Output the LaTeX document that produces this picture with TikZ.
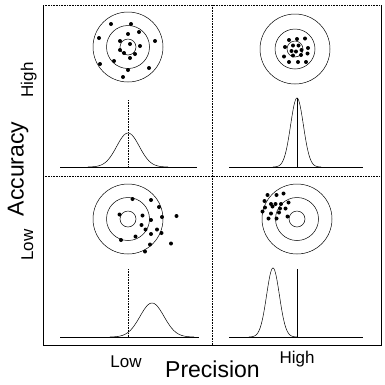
\documentclass[tikz,border=0pt]{standalone}
\usepackage{fontspec}
\setmainfont{Liberation Sans}
\usetikzlibrary{calc}

\begin{document}
\begin{tikzpicture}[x=1pt,y=-1pt,
		frameline/.style={line width=0.8pt},
		dotline/.style={line width=0.6pt,densely dotted},
		ring/.style={line width=0.5pt},
		shot/.style={fill=black},
		bell/.style={line width=0.5pt},
		axisline/.style={line width=0.9pt},
		trueline/.style={line width=0.6pt},
		biglabel/.style={font=\fontsize{23}{26}\selectfont,anchor=base},
		smalllabel/.style={font=\fontsize{17}{20}\selectfont,anchor=base}]
			      \useasboundingbox (0,0) rectangle (385,384);
			      % Coordinates
			      \coordinate (A) at (43,5);
			      \coordinate (B) at (381,5);
			      \coordinate (C) at (381,345);
			      \coordinate (D) at (43,345);
			      \coordinate (E) at (212.5,5);
			      \coordinate (F) at (212.5,345);
			      \coordinate (G) at (43,176);
			      \coordinate (H) at (381,176);
			      \coordinate (TL) at (128,47);
			      \coordinate (TR) at (295,49);
			      \coordinate (BL) at (128,219);
			      \coordinate (BR) at (297,219);
			      % Frame
			      \draw[frameline] (B)--(C)--(D)--(A);
			      \draw[dotline] (A)--(B);
			      \draw[dotline] (G)--(H);
			      \draw[dotline,line width=1.1pt] (E)--(F);
			      % Targets
			      \foreach \P in {TL, BL, BR} {
					      \foreach \r in {8, 21.5, 35}
					      \draw[ring] (\P) circle (\r);
				      }
			      \foreach \r in {8, 20, 35}
			      \draw[ring] (TR) circle (\r);
			      % Shots
			      \foreach \x/\y in {111/24, 131/24, 139/32, 128/34, 99/38, 155/41, 120/41, 130/44,
					      140/46, 120/50, 124/53, 135/54, 130/58, 114/61, 100/64, 128/70, 149/68, 123/77} {
					      \fill[shot] (\x,\y) circle (2);
				      }
			      \foreach \x/\y in {289/40, 297/39, 305/38.5, 285/47, 293/45.5, 298.5/45.5, 308/48,
					      291.5/51, 296/51.5, 301.5/50, 301/55, 307.5/53.5, 284/56.5, 293/55.5, 289/62, 298/62, 306/62} {
					      \fill[shot] (\x,\y) circle (2);
				      }
			      \foreach \x/\y in {132.5/199, 159/207, 151/200, 119.5/214.5, 142.5/215.5, 162/217, 176.5/216,
					      151/220, 141.5/225, 157/229.5, 145.5/229.5, 151/234, 161.5/233, 135.5/236.5,
					      121/240, 150/244.5, 171/243.5, 145/251.5} {
					      \fill[shot] (\x,\y) circle (2);
				      }
			      \foreach \x/\y in {267.5/195, 276.5/195, 283.5/193.5, 264.5/201, 271/204, 275.5/204, 281/204,
					      288.5/202.5, 265/207.5, 272.5/206.5, 280/208.5, 285.5/208.5, 262.5/211.5, 271/213.5,
					      279/212.5, 287.5/216.5, 268.5/218.5, 276.5/218.5} {
					      \fill[shot] (\x,\y) circle (2);
				      }
			      % Distributions
			      \draw[axisline] (60,167) -- (197,167);
			      \draw[axisline] (229,167) -- (363,167);
			      \draw[axisline] (60,337) -- (199,337);
			      \draw[axisline] (229,337) -- (363,337);
			      \draw[dotline] (128,100) -- (128,167);
			      \draw[trueline] (297,98) -- (297,167);
			      \draw[dotline] (128,269) -- (128,337);
			      \draw[trueline] (297,269) -- (297,337);
			      \draw[bell] plot[domain=-40:40,samples=81] ({128+\x},{167-34*exp(-(\x*\x)/256)});
			      \draw[bell] plot[domain=-24:24,samples=81] ({297+\x},{167-69*exp(-(\x*\x)/82)});
			      \draw[bell] plot[domain=-42:42,samples=81] ({152+\x},{337-34*exp(-(\x*\x)/288)});
			      \draw[bell] plot[domain=-24:24,samples=81] ({273+\x},{337-69*exp(-(\x*\x)/82)});
			      % Labels
			      \node[biglabel,rotate=90] (accuracy) at (23.5,169) {Accuracy};
			      \node[smalllabel,rotate=90] (acchigh) at (33,80) {High};
			      \node[smalllabel,rotate=90] (acclow) at (33,245) {Low};
			      \node[biglabel] (precision) at (212.5,377) {Precision};
			      \node[smalllabel] (prelow) at (126,367) {Low};
			      \node[smalllabel] (prehigh) at (297,363) {High};
		      \end{tikzpicture}
\end{document}
